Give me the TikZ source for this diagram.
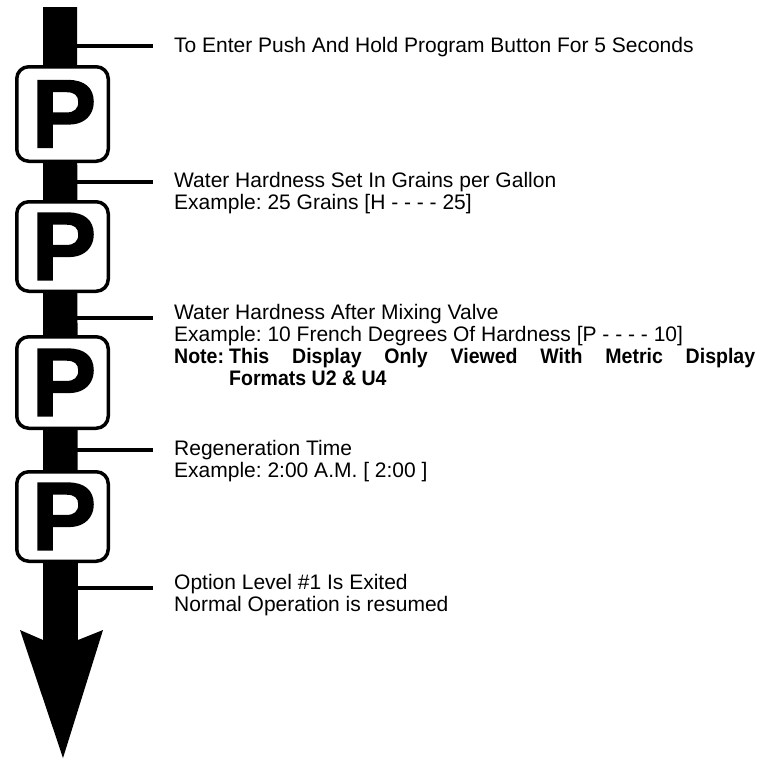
\documentclass[tikz,border=0pt]{standalone}
\usepackage{fontspec}
\setmainfont{Liberation Sans}
\newfontfamily\pfont{Liberation Sans Bold}[FakeBold=1.5]
\newfontfamily\notefont{Liberation Sans Bold}[FakeStretch=0.93]
\frenchspacing
\begin{document}
\begin{tikzpicture}[x=1pt,y=-1pt,
  shaft/.style={fill=black,draw=none},
  pbox/.style={draw=black,line width=3.5pt,fill=white,rounded corners=12pt},
  pletter/.style={inner sep=0pt,font=\pfont\fontsize{97}{97}\selectfont},
  tick/.style={draw=black,line width=4pt},
  lbl/.style={anchor=base west,inner sep=0pt,font=\fontsize{21}{22}\selectfont},
  blbl/.style={anchor=base west,inner sep=0pt,font=\notefont\fontsize{21}{22}\selectfont}]
\useasboundingbox (0,0) rectangle (769,777);
% shaft and arrowhead
\fill[shaft] (43,7) -- (43,640) -- (20,630) -- (63,758) -- (103,630) -- (78,640) -- (77,7) -- cycle;
% tick lines
\coordinate (t1a) at (77,45.5); \coordinate (t1b) at (153,45.5);
\coordinate (t2a) at (77,182);  \coordinate (t2b) at (153,182);
\coordinate (t3a) at (77,317.5);\coordinate (t3b) at (153,317.5);
\coordinate (t4a) at (77,450);  \coordinate (t4b) at (153,450);
\coordinate (t5a) at (77,588);  \coordinate (t5b) at (153,588);
\draw[tick] (t1a) -- (t1b);
\draw[tick] (t2a) -- (t2b);
\draw[tick] (t3a) -- (t3b);
\draw[tick] (t4a) -- (t4b);
\draw[tick] (t5a) -- (t5b);
% P buttons
\draw[pbox] (16.75,66.75) rectangle (108.25,161.25);
\draw[pbox] (16.75,201.75) rectangle (108.25,291.25);
\draw[pbox] (16.75,336.75) rectangle (108.25,428.25);
\draw[pbox] (16.75,471.75) rectangle (108.25,561.25);
\node[pletter] (p1) at (64,114) {P};
\node[pletter] (p2) at (64,246.5) {P};
\node[pletter] (p3) at (64,382.5) {P};
\node[pletter] (p4) at (64,516.5) {P};
% texts
\node[lbl] (a1) at (174,52) {To Enter Push And Hold Program Button For 5 Seconds};
\node[lbl] (b1) at (174,187) {Water Hardness Set In Grains per Gallon};
\node[lbl] (b2) at (174,209) {Example: 25 Grains [H - - - - 25]};
\node[lbl] (c1) at (174,319) {Water Hardness After Mixing Valve};
\node[lbl] (c2) at (174,341) {Example: 10 French Degrees Of Hardness [P - - - - 10]};
\node[blbl] (c3) at (174,363) {Note:};
\node[blbl] (c4) at (229,363) {\hbox to 526pt{This\hfill Display\hfill Only\hfill Viewed\hfill With\hfill Metric\hfill Display}};
\node[blbl] (c5) at (229,385) {Formats U2 \& U4};
\node[lbl] (d1) at (174,455) {Regeneration Time};
\node[lbl] (d2) at (174,477) {Example: 2:00 A.M. [ 2:00 ]};
\node[lbl] (e1) at (174,589) {Option Level \#1 Is Exited};
\node[lbl] (e2) at (174,611) {Normal Operation is resumed};
\end{tikzpicture}
\end{document}
